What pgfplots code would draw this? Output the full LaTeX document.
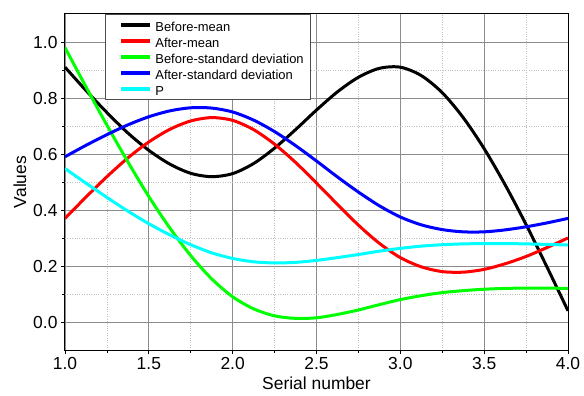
\documentclass[border=0pt]{standalone}
\usepackage{fontspec}
\setmainfont{Liberation Sans}
\usepackage{pgfplots}
\pgfplotsset{compat=1.18}
\definecolor{cBlack}{RGB}{0,0,0}
\definecolor{cRed}{RGB}{255,0,0}
\definecolor{cGreen}{RGB}{0,255,0}
\definecolor{cBlue}{RGB}{0,0,255}
\definecolor{cCyan}{RGB}{0,255,255}
\begin{document}
\begin{tikzpicture}
\path[use as bounding box] (-65bp,-46bp) rectangle (519bp,350bp);
\begin{axis}[
 at={(0,0)}, anchor=south west,
 scale only axis, width=503bp, height=336bp,
 xmin=1, xmax=4, ymin=-0.1, ymax=1.1,
 xtick={1,1.5,2,2.5,3,3.5,4}, ytick={0,0.2,0.4,0.6,0.8,1.0},
 minor x tick num=1, minor y tick num=1,
 grid=both,
 major grid style={black!45, line width=0.8bp},
 minor grid style={black!25, dotted, line width=0.7bp},
 tick align=outside, xtick pos=bottom, ytick pos=left,
 major tick length=4bp, minor tick length=2.5bp,
 tick style={black, line width=0.8bp},
 axis line style={black, line width=1bp},
 /pgf/number format/assume math mode=true,
 x tick label style={/pgf/number format/fixed, /pgf/number format/fixed zerofill, /pgf/number format/precision=1},
 y tick label style={/pgf/number format/fixed, /pgf/number format/fixed zerofill, /pgf/number format/precision=1},
 tick label style={font=\fontsize{17.5}{18}\selectfont},
 xlabel={Serial number}, ylabel={Values},
 every axis x label/.style={at={(axis description cs:0.5,-0.1)},anchor=center,font=\fontsize{17.5}{18}\selectfont},
 every axis y label/.style={at={(axis description cs:-0.0895,0.5)},rotate=90,anchor=center,font=\fontsize{17.5}{18}\selectfont},
 legend style={at={(0.0795,1)}, anchor=north west, draw=black!70, line width=0.8bp, fill=white,
   font=\fontsize{13}{13}\selectfont, inner xsep=7bp, inner ysep=2.6bp, row sep=0pt,
   nodes={text height=15bp, text depth=1bp, inner sep=0bp}},
 legend cell align=left,
 legend image code/.code={\path[draw=none,fill=none] (0bp,-1bp) rectangle (43bp,1bp); \draw[#1, line width=3.5bp] (9bp,0bp) -- (38bp,0bp);},
]
\addplot[cBlack, line width=3bp, smooth] coordinates {(1,0.910)(1.125,0.827)(1.25,0.748)(1.375,0.675)(1.5,0.613)(1.625,0.564)(1.75,0.531)(1.875,0.519)(2,0.530)(2.125,0.566)(2.25,0.621)(2.375,0.687)(2.5,0.757)(2.625,0.822)(2.75,0.874)(2.875,0.906)(3,0.910)(3.125,0.880)(3.25,0.819)(3.375,0.730)(3.5,0.619)(3.625,0.490)(3.75,0.348)(3.875,0.196)(4,0.040)};
\addlegendentry{Before-mean}
\addplot[cRed, line width=3bp, smooth] coordinates {(1,0.370)(1.125,0.446)(1.25,0.519)(1.375,0.586)(1.5,0.643)(1.625,0.688)(1.75,0.718)(1.875,0.730)(2,0.720)(2.125,0.687)(2.25,0.635)(2.375,0.570)(2.5,0.496)(2.625,0.420)(2.75,0.346)(2.875,0.281)(3,0.230)(3.125,0.197)(3.25,0.180)(3.375,0.178)(3.5,0.188)(3.625,0.208)(3.75,0.234)(3.875,0.266)(4,0.300)};
\addlegendentry{After-mean}
\addplot[cGreen, line width=3bp, smooth] coordinates {(1,0.980)(1.125,0.840)(1.25,0.703)(1.375,0.572)(1.5,0.448)(1.625,0.336)(1.75,0.237)(1.875,0.154)(2,0.090)(2.125,0.047)(2.25,0.022)(2.375,0.013)(2.5,0.015)(2.625,0.027)(2.75,0.043)(2.875,0.062)(3,0.080)(3.125,0.094)(3.25,0.105)(3.375,0.112)(3.5,0.117)(3.625,0.120)(3.75,0.121)(3.875,0.121)(4,0.120)};
\addlegendentry{Before-standard deviation}
\addplot[cBlue, line width=3bp, smooth] coordinates {(1,0.590)(1.125,0.631)(1.25,0.669)(1.375,0.704)(1.5,0.733)(1.625,0.754)(1.75,0.765)(1.875,0.764)(2,0.750)(2.125,0.721)(2.25,0.680)(2.375,0.630)(2.5,0.575)(2.625,0.518)(2.75,0.464)(2.875,0.415)(3,0.375)(3.125,0.347)(3.25,0.330)(3.375,0.322)(3.5,0.322)(3.625,0.329)(3.75,0.340)(3.875,0.354)(4,0.370)};
\addlegendentry{After-standard deviation}
\addplot[cCyan, line width=3bp, smooth] coordinates {(1,0.548)(1.125,0.496)(1.25,0.445)(1.375,0.396)(1.5,0.351)(1.625,0.311)(1.75,0.276)(1.875,0.247)(2,0.227)(2.125,0.215)(2.25,0.211)(2.375,0.213)(2.5,0.220)(2.625,0.230)(2.75,0.241)(2.875,0.253)(3,0.263)(3.125,0.271)(3.25,0.276)(3.375,0.279)(3.5,0.280)(3.625,0.280)(3.75,0.279)(3.875,0.277)(4,0.275)};
\addlegendentry{P}
\end{axis}
\end{tikzpicture}
\end{document}
